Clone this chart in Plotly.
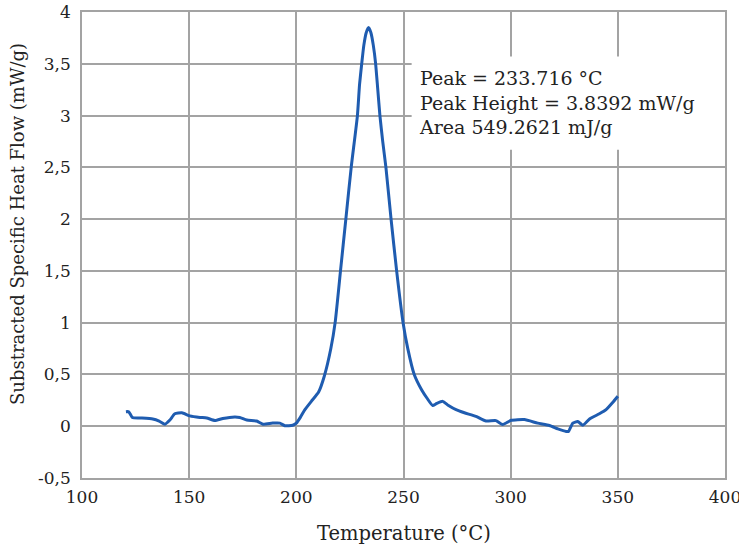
import plotly.graph_objects as go

temperature = [120.5, 121.8, 123.5, 127, 133, 136, 138.7, 141, 143.3, 146.6, 150.3, 155, 158.2,
               162, 165.7, 171.3, 173.6, 176.9, 181.5, 184.4, 189, 192.3, 194.6, 198.3, 200,
               202, 204, 207, 210.4, 213, 216.1, 218.1, 220.6, 223.1, 225.6, 228.5, 229.5,
               230.5, 231.5, 232.6, 233.7, 234.8, 235.9, 237.0, 238.0, 239.0, 240.3, 241.8,
               244.2, 246.8, 249.8, 252, 255, 258.5, 261, 263.6, 265.5, 268.3, 271, 274.5,
               278.4, 283.8, 288.5, 293.1, 296.3, 300.2, 306.4, 312.6, 318.1, 322, 325.9, 327,
               329, 331.3, 333.7, 336.8, 341.4, 344.5, 347.6, 350]
heat_flow = [0.14, 0.14, 0.085, 0.08, 0.07, 0.05, 0.02, 0.06, 0.12, 0.13, 0.10, 0.085, 0.08,
             0.055, 0.075, 0.09, 0.085, 0.06, 0.05, 0.02, 0.03, 0.03, 0.005, 0.01, 0.03,
             0.09, 0.16, 0.24, 0.33, 0.48, 0.75, 1.0, 1.5, 2.0, 2.5, 3.0, 3.3,
             3.5, 3.68, 3.8, 3.85, 3.8, 3.68, 3.5, 3.25, 3.0, 2.75, 2.5,
             2.0, 1.5, 1.0, 0.75, 0.5, 0.35, 0.27, 0.2, 0.22, 0.24, 0.2, 0.16,
             0.13, 0.095, 0.05, 0.054, 0.016, 0.057, 0.064, 0.03, 0.007, -0.025, -0.05, -0.05,
             0.03, 0.045, 0.01, 0.07, 0.12, 0.16, 0.23, 0.29]

x_ticks = [100, 150, 200, 250, 300, 350, 400]
x_ticktext = ["100", "150", "200", "250", "300", "350", "400"]
y_ticks = [-0.5, 0, 0.5, 1, 1.5, 2, 2.5, 3, 3.5, 4]
y_ticktext = ["-0,5", "0", "0,5", "1", "1,5", "2", "2,5", "3", "3,5", "4"]

annotation_lines = ["Peak = 233.716 °C", "Peak Height = 3.8392 mW/g", "Area 549.2621 mJ/g"]
x_title = "Temperature (°C)"
y_title = "Substracted Specific Heat Flow (mW/g)"

FONT = "DejaVu Serif"
GRID = "#a3a3a3"
TXT = "#222222"

fig = go.Figure()
fig.add_trace(go.Scatter(
    x=temperature, y=heat_flow, mode="lines",
    line=dict(color="#1f5cb0", width=3, shape="spline", smoothing=0.5),
    showlegend=False, hoverinfo="skip",
))

fig.add_shape(type="rect", xref="x", yref="y", x0=253.8, x1=400, y0=2.67, y1=3.57,
              fillcolor="white", line=dict(width=0), layer="between")
fig.add_annotation(x=256.5, y=3.49, xref="x", yref="y", xanchor="left", yanchor="top",
                   align="left", showarrow=False, text="<br>".join(annotation_lines),
                   font=dict(family=FONT, size=19, color=TXT))

# axis titles
fig.add_annotation(x=0.5, y=0, xref="paper", yref="paper", xanchor="center", yanchor="middle",
                   yshift=-55, showarrow=False, text=x_title,
                   font=dict(family=FONT, size=19.5, color=TXT))
fig.add_annotation(x=0, y=0.545, xref="paper", yref="paper", xanchor="center", yanchor="middle",
                   xshift=-65, showarrow=False, text=y_title, textangle=-90,
                   font=dict(family=FONT, size=18, color=TXT))

fig.update_layout(
    width=739, height=547,
    margin=dict(l=82, r=14, t=12, b=69, autoexpand=False),
    paper_bgcolor="white", plot_bgcolor="white",
    font=dict(family=FONT, size=17, color=TXT),
)
fig.update_xaxes(
    range=[100, 400], tickvals=x_ticks, ticktext=x_ticktext, automargin=False,
    showgrid=True, gridcolor=GRID, gridwidth=1.5,
    showline=True, linecolor=GRID, linewidth=1.5, mirror=True,
    ticks="", ticklabelstandoff=3, ticklabeloverflow="allow", zeroline=False,
    tickfont=dict(family=FONT, size=17, color=TXT),
)
fig.update_yaxes(
    range=[-0.5, 4], tickvals=y_ticks, ticktext=y_ticktext, automargin=False,
    showgrid=True, gridcolor=GRID, gridwidth=1.5,
    showline=True, linecolor=GRID, linewidth=1.5, mirror=True,
    ticks="", ticklabelstandoff=6, zeroline=False,
    tickfont=dict(family=FONT, size=17, color=TXT),
)

fig.write_html("out.html")
